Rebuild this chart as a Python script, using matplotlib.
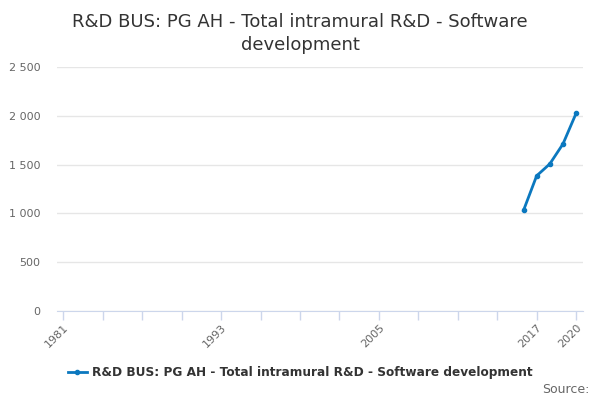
import matplotlib.pyplot as plt
import matplotlib.ticker as mticker

years = [2016, 2017, 2018, 2019, 2020]
values = [1030, 1385, 1507, 1711, 2025]
tick_years = list(range(1981, 2021, 3))
labelled_years = [1981, 1993, 2005, 2017, 2020]
y_ticks = [0, 500, 1000, 1500, 2000, 2500]

title = "R&D BUS: PG AH - Total intramural R&D - Software\ndevelopment"
series_name = "R&D BUS: PG AH - Total intramural R&D - Software development"

line_color = "#0b78bf"
axis_color = "#ccd6eb"
grid_color = "#e6e6e6"
label_color = "#666666"


def fmt_thousands(v, pos=None):
    return f"{int(v):,}".replace(",", " ")


fig = plt.figure(figsize=(6, 4), dpi=100)
ax = fig.add_axes([0.0955, 0.2225, 0.8767, 0.61])

ax.plot(years, values, "-o", color=line_color, linewidth=2, markersize=3,
        label=series_name)

ax.set_xlim(1980.54, 2020.55)
ax.set_ylim(0, 2500)

ax.set_xticks(tick_years)
ax.set_xticklabels([str(y) if y in labelled_years else "" for y in tick_years],
                   rotation=45, ha="right", rotation_mode="anchor")
ax.set_yticks(y_ticks)
ax.yaxis.set_major_formatter(mticker.FuncFormatter(fmt_thousands))

ax.grid(axis="y", color=grid_color, linewidth=1)
ax.set_axisbelow(True)
for side in ["top", "right", "left"]:
    ax.spines[side].set_visible(False)
ax.spines["bottom"].set_color(axis_color)
ax.tick_params(axis="x", colors=axis_color, length=6.5, width=1,
               labelcolor=label_color, labelsize=8, pad=2)
ax.tick_params(axis="y", length=0, labelcolor=label_color, labelsize=8, pad=12)

fig.suptitle(title, x=0.5, y=0.967, fontsize=13, color="#333333",
             linespacing=1.32)

leg = fig.legend(loc="center", bbox_to_anchor=(0.5, 0.068), frameon=False,
                 handlelength=1.6, handletextpad=0.4,
                 prop={"weight": "bold", "size": 8.7})
for t in leg.get_texts():
    t.set_color("#333333")

fig.text(0.983, 0.01, "Source:", ha="right", va="bottom", fontsize=9,
         color=label_color)

fig.savefig("out.png", dpi=100)
